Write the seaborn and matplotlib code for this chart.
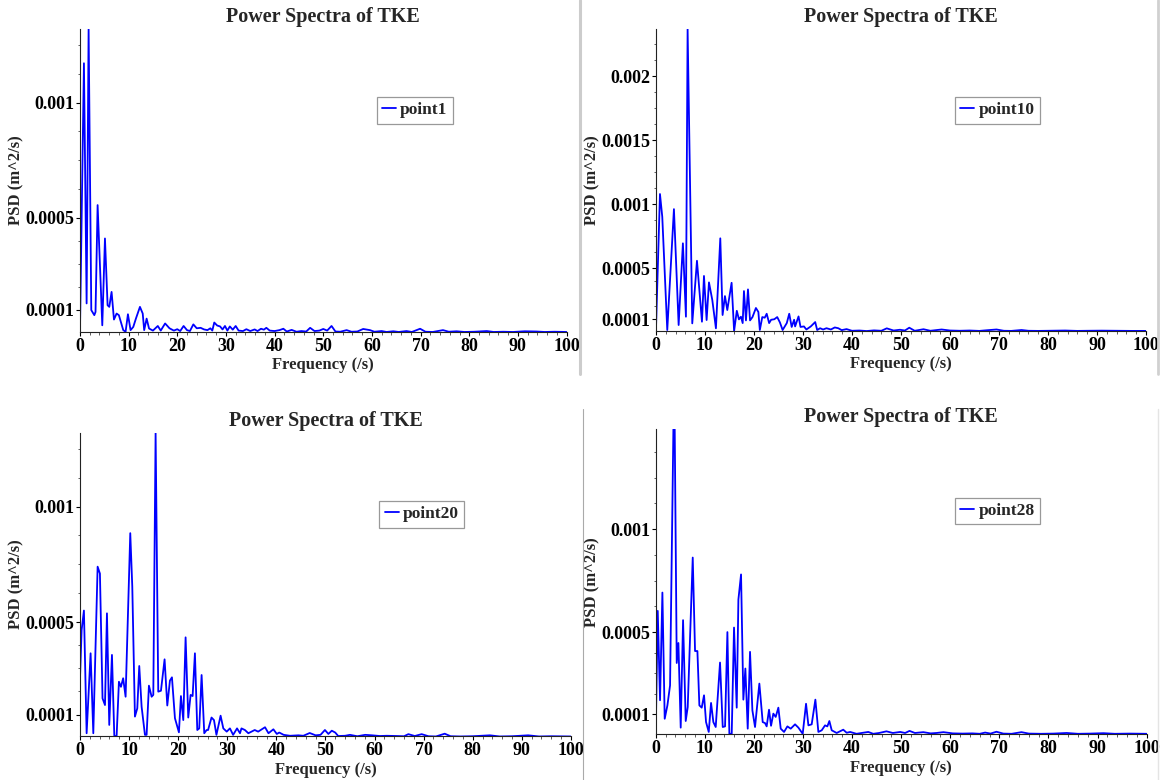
import numpy as np
import pandas as pd
import matplotlib
matplotlib.use("Agg")
import matplotlib.pyplot as plt
from matplotlib.lines import Line2D
from matplotlib.ticker import FixedLocator, FixedFormatter, MultipleLocator
import seaborn as sns

# Power spectral density of TKE at four probe points.
# Frequencies in 1/s, PSD values in units of 1e-4 m^2/s.
freq_p1 = [0.0, 0.82, 1.37, 1.78, 2.33, 2.95, 3.2, 3.63, 4.59, 5.14, 5.68, 6.03, 6.5, 6.99,
           7.53, 8.0, 8.9, 9.38, 9.86, 10.4, 10.96, 11.5, 12.33, 12.9, 13.2, 13.7, 14.2, 15.0,
           16.0, 16.6, 17.5, 18.4, 19.3, 20.0, 20.6, 21.3, 22.0, 22.6, 23.3, 24.0, 24.8, 25.5,
           26.2, 26.8, 27.2, 27.6, 28.2, 28.8, 29.3, 29.8, 30.3, 30.8, 31.4, 32.0, 32.6, 33.5,
           34.2, 35.0, 35.9, 36.5, 37.2, 37.8, 38.3, 39.0, 40.0, 41.0, 41.8, 42.5, 43.5, 44.5,
           45.5, 46.5, 47.3, 48.2, 49.2, 50.0, 50.8, 51.7, 52.5, 53.5, 54.8, 55.8, 57.0, 58.2,
           59.6, 60.5, 62.0, 63.0, 64.4, 65.5, 67.1, 68.2, 69.9, 71.0, 72.5, 74.6, 75.8, 77.4,
           79.0, 81.0, 83.6, 85.0, 87.0, 89.0, 91.4, 93.8, 95.5, 97.5, 100.0]
psd_p1 = [0.04, 11.71, 1.28, 13.2, 0.99, 0.77, 0.91, 5.55, 0.33, 4.10, 1.20, 1.13, 1.78, 0.58,
          0.84, 0.77, 0.12, 0.05, 0.81, 0.12, 0.26, 0.62, 1.13, 0.84, 0.12, 0.62, 0.19, 0.10,
          0.30, 0.10, 0.41, 0.20, 0.10, 0.16, 0.08, 0.30, 0.12, 0.08, 0.37, 0.20, 0.22, 0.15,
          0.12, 0.20, 0.10, 0.45, 0.32, 0.28, 0.15, 0.30, 0.10, 0.28, 0.14, 0.30, 0.10, 0.08,
          0.16, 0.08, 0.15, 0.08, 0.18, 0.14, 0.22, 0.10, 0.08, 0.12, 0.18, 0.06, 0.13, 0.05,
          0.08, 0.06, 0.22, 0.08, 0.10, 0.17, 0.10, 0.30, 0.06, 0.05, 0.12, 0.05, 0.06, 0.17,
          0.12, 0.05, 0.08, 0.04, 0.07, 0.04, 0.08, 0.04, 0.18, 0.05, 0.04, 0.12, 0.05, 0.07,
          0.04, 0.05, 0.08, 0.04, 0.05, 0.04, 0.07, 0.06, 0.04, 0.05, 0.04]

freq_p10 = [0.0, 0.82, 1.29, 2.31, 3.67, 4.63, 5.5, 6.12, 6.46, 7.41, 8.37, 9.39, 9.8, 10.34,
            10.82, 11.5, 12.24, 13.13, 13.6, 14.08, 14.56, 15.44, 15.95, 16.5, 16.94, 17.35,
            17.7, 17.96, 18.37, 18.78, 19.2, 19.7, 20.4, 20.9, 21.2, 21.7, 22.2, 22.6, 23.1,
            23.5, 24.15, 24.75, 25.3, 25.85, 26.7, 27.2, 27.7, 28.2, 28.4, 29.1, 29.5, 30.2,
            30.7, 31.6, 32.5, 32.9, 33.5, 34.1, 34.8, 35.7, 36.5, 37.2, 37.9, 38.9, 40.0, 41.5,
            43.0, 44.5, 46.0, 47.1, 48.5, 49.8, 50.8, 51.7, 52.8, 54.6, 56.0, 58.3, 60.0, 62.0,
            64.0, 66.0, 67.5, 69.5, 71.0, 72.5, 74.6, 76.0, 78.0, 80.0, 83.5, 86.0, 88.0, 91.0,
            94.0, 97.0, 100.0]
psd_p10 = [0.16, 10.78, 9.0, 0.16, 9.6, 0.55, 6.93, 1.2, 23.67, 0.68, 5.57, 0.81, 4.38, 0.94,
           3.88, 2.5, 0.29, 7.32, 1.33, 2.81, 1.72, 3.85, 0.08, 1.66, 0.99, 1.2,
           0.7, 3.2, 0.91, 3.33, 0.91, 1.17, 1.88, 1.57, 0.16, 1.17, 1.12, 1.43, 0.7,
           0.96, 1.0, 1.17, 0.75, 0.16, 0.7, 1.43, 0.4, 0.96, 0.44, 1.22, 0.4, 0.44,
           0.2, 0.44, 0.78, 0.16, 0.3, 0.2, 0.3, 0.2, 0.36, 0.3, 0.15, 0.23, 0.10, 0.12,
           0.08, 0.13, 0.10, 0.29, 0.12, 0.18, 0.12, 0.34, 0.10, 0.22, 0.10, 0.20, 0.12, 0.10,
           0.12, 0.09, 0.14, 0.20, 0.10, 0.09, 0.16, 0.10, 0.09, 0.10, 0.12, 0.09, 0.10, 0.11,
           0.10, 0.09, 0.09]

freq_p20 = [0.0, 0.34, 0.81, 1.36, 2.17, 2.72, 3.6, 4.07, 4.6, 5.1, 5.5, 5.97, 6.52, 7.0,
            7.47, 7.94, 8.35, 8.8, 9.3, 10.25, 10.66, 11.2, 11.68, 12.08, 12.56, 13.24, 13.58,
            14.05, 14.6, 14.94, 15.41, 15.95, 16.5, 17.24, 17.79, 18.33, 18.74, 19.35, 20.16,
            20.57, 21.05, 21.52, 22.06, 22.54, 22.95, 23.42, 23.9, 24.3, 24.78, 25.32, 25.8,
            26.1, 26.8, 27.3, 27.8, 28.65, 29.2, 29.9, 30.55, 31.2, 32.0, 32.6, 32.9, 33.6,
            34.3, 35.6, 36.3, 37.7, 38.4, 39.4, 40.1, 40.6, 41.5, 42.8, 44.5, 45.5, 46.8, 48.0,
            49.0, 49.9, 50.6, 51.3, 52.0, 52.6, 54.0, 55.0, 56.5, 58.1, 59.5, 61.1, 62.5, 64.5,
            66.0, 66.9, 68.2, 69.6, 71.0, 72.5, 74.3, 75.5, 77.5, 80.0, 83.5, 85.5, 88.0, 91.3,
            93.5, 96.0, 100.0]
psd_p20 = [2.5, 4.66, 5.5, 0.19, 3.65, 0.19, 7.4, 7.1, 1.7, 1.41, 5.38, 0.55, 3.58, 0.07,
           0.07, 2.42, 2.2, 2.57, 1.77, 8.85, 6.54, 0.91, 1.27, 3.1, 1.34, 0.12, 0.12,
           2.25, 1.77, 1.85, 13.2, 1.99, 2.03, 3.39, 1.39, 2.47, 2.61, 0.84, 0.23,
           1.8, 0.76, 4.34, 0.87, 1.85, 1.8, 3.65, 0.33, 0.4, 2.71, 0.19, 0.33,
           0.33, 0.87, 0.76, 0.12, 0.95, 0.4, 0.26, 0.4, 0.12, 0.4, 0.19, 0.4, 0.33,
           0.19, 0.33, 0.26, 0.45, 0.19, 0.36, 0.16, 0.22, 0.12, 0.08, 0.10, 0.08, 0.20, 0.10,
           0.12, 0.33, 0.16, 0.30, 0.22, 0.07, 0.08, 0.12, 0.06, 0.12, 0.10, 0.07, 0.08, 0.07,
           0.06, 0.15, 0.07, 0.15, 0.06, 0.05, 0.17, 0.06, 0.05, 0.06, 0.10, 0.05, 0.06, 0.10,
           0.05, 0.06, 0.05]

freq_p28 = [0.0, 0.41, 0.88, 1.36, 1.83, 2.38, 2.92, 3.6, 3.87, 4.28, 4.62, 5.09, 5.57, 6.11,
            6.52, 7.54, 8.01, 8.49, 8.89, 9.37, 9.84, 10.25, 10.8, 11.27, 11.74, 12.22, 13.1,
            13.65, 14.12, 14.6, 15.0, 15.48, 15.95, 16.5, 16.84, 17.38, 17.85, 18.26, 18.74,
            19.21, 19.69, 20.23, 21.11, 21.79, 22.27, 22.6, 23.08, 23.49, 23.96, 24.44, 24.98,
            25.46, 26.14, 26.82, 27.5, 28.38, 29.06, 29.94, 30.62, 31.1, 31.77, 32.52, 33.13,
            33.81, 34.49, 34.96, 35.37, 35.85, 36.86, 38.2, 38.9, 39.6, 40.9, 41.95, 43.3, 44.3,
            45.5, 47.0, 48.3, 49.8, 50.8, 51.7, 52.8, 54.5, 56.0, 57.2, 58.6, 60.5, 62.5, 64.5,
            66.0, 67.1, 68.2, 69.4, 70.8, 72.5, 74.5, 76.0, 78.5, 81.0, 83.7, 86.0, 88.5, 91.2,
            93.5, 96.5, 100.0]
psd_p28 = [0.04, 6.03, 1.69, 6.92, 0.79, 1.44, 2.41, 14.85, 14.85, 3.5, 4.47, 0.36, 5.58, 0.68,
           1.36, 8.62, 4.08, 4.08, 1.44, 1.33, 1.93, 0.63, 0.15, 1.56, 0.63, 0.39, 3.52,
           0.39, 0.42, 5.0, 0.06, 0.06, 5.22, 1.33, 6.58, 7.8, 1.72, 3.23, 0.31,
           4.04, 1.2, 0.39, 2.5, 0.63, 0.58, 0.42, 1.23, 0.45, 1.04, 0.88, 1.33,
           0.31, 0.15, 0.42, 0.31, 0.52, 0.36, 0.06, 1.52, 0.47, 0.52, 1.72, 0.15,
           0.23, 0.47, 0.42, 0.68, 0.23, 0.10, 0.26, 0.11, 0.15, 0.06, 0.10, 0.15, 0.06,
           0.10, 0.18, 0.10, 0.15, 0.10, 0.20, 0.10, 0.14, 0.08, 0.10, 0.14, 0.08, 0.07, 0.08,
           0.06, 0.12, 0.07, 0.16, 0.07, 0.06, 0.14, 0.07, 0.06, 0.07, 0.10, 0.06, 0.07, 0.09,
           0.06, 0.07, 0.06]

series_names = ["point1", "point10", "point20", "point28"]
series_freq = [freq_p1, freq_p10, freq_p20, freq_p28]
series_psd = [psd_p1, psd_p10, psd_p20, psd_p28]

# labelled y ticks (m^2/s) and minor ticks per panel
ytick_values = [[0.0001, 0.0005, 0.001],
                [0.0001, 0.0005, 0.001, 0.0015, 0.002],
                [0.0001, 0.0005, 0.001],
                [0.0001, 0.0005, 0.001]]
ytick_labels = [["0.0001", "0.0005", "0.001"],
                ["0.0001", "0.0005", "0.001", "0.0015", "0.002"],
                ["0.0001", "0.0005", "0.001"],
                ["0.0001", "0.0005", "0.001"]]
minor_y = [0.0002, 0.0003, 0.0004, 0.000625, 0.00075, 0.000875, 0.001125, 0.00125,
           0.001375, 0.001625, 0.00175, 0.001875, 0.002125, 0.00225]

sns.set_style("ticks")
plt.rcParams["font.family"] = ["Liberation Serif", "DejaVu Serif"]
plt.rcParams["font.weight"] = "bold"
plt.rcParams["axes.labelweight"] = "bold"
plt.rcParams["axes.titleweight"] = "bold"

fig = plt.figure(figsize=(11.62, 7.80), dpi=100)

# axes rectangles in figure fractions: [left, bottom, width, height]
positions = [[0.0688, 0.5744, 0.4188, 0.3885],
             [0.5645, 0.5756, 0.4217, 0.3872],
             [0.0688, 0.0558, 0.4225, 0.3895],
             [0.5643, 0.0587, 0.4225, 0.3909]]

for name, f, p, pos, yt, yl in zip(series_names, series_freq, series_psd, positions,
                                   ytick_values, ytick_labels):
    ax = fig.add_axes(pos)
    df = pd.DataFrame({"Frequency": f, "PSD": np.array(p) * 1e-4})
    sns.lineplot(data=df, x="Frequency", y="PSD", ax=ax, color="#0000ff", lw=1.3,
                 label=name, sort=False, estimator=None)
    ax.set_xlim(0, 100)
    ax.set_ylim(df["PSD"].min(), df["PSD"].max())
    ax.xaxis.set_major_locator(MultipleLocator(10))
    ax.xaxis.set_minor_locator(MultipleLocator(2))
    ax.yaxis.set_major_locator(FixedLocator(yt))
    ax.yaxis.set_major_formatter(FixedFormatter(yl))
    ax.yaxis.set_minor_locator(FixedLocator(minor_y))
    ax.tick_params(which="major", direction="out", length=3, width=0.8, pad=1.0,
                   labelsize=13, colors="black")
    ax.tick_params(which="minor", direction="out", length=1.8, width=0.6, colors="#444444")
    for lab in ax.get_xticklabels() + ax.get_yticklabels():
        lab.set_fontweight("bold")
    sns.despine(ax=ax)
    for s in ("left", "bottom"):
        ax.spines[s].set_linewidth(0.8)
        ax.spines[s].set_color("#222222")
    ax.set_title("Power Spectra of TKE", fontsize=14.5, fontweight="bold", pad=5)
    ax.set_xlabel("Frequency (/s)", fontsize=12, fontweight="bold", labelpad=2)
    ax.set_ylabel("PSD (m^2/s)", fontsize=12, fontweight="bold", labelpad=1)
    leg = ax.legend(loc="upper left", bbox_to_anchor=(0.61, 0.775), frameon=True,
                    fancybox=False, edgecolor="#999999", framealpha=1, handlelength=0.8,
                    handletextpad=0.25, borderpad=0.3, borderaxespad=0,
                    prop={"weight": "bold", "size": 12.5})
    leg.get_frame().set_linewidth(0.9)

# panel divider rules
fig.add_artist(Line2D([0.4991, 0.4991], [1.0, 0.5205], transform=fig.transFigure,
                      color="#cccccc", lw=2.2))
fig.add_artist(Line2D([0.5013, 0.5013], [0.0, 0.4756], transform=fig.transFigure,
                      color="#aaaaaa", lw=0.8))
fig.add_artist(Line2D([0.9966, 0.9966], [1.0, 0.5205], transform=fig.transFigure,
                      color="#d0d0d0", lw=2.0))
fig.add_artist(Line2D([0.9966, 0.9966], [0.0, 0.4756], transform=fig.transFigure,
                      color="#e4e4e4", lw=1.0))

fig.savefig("out.png", dpi=100)
